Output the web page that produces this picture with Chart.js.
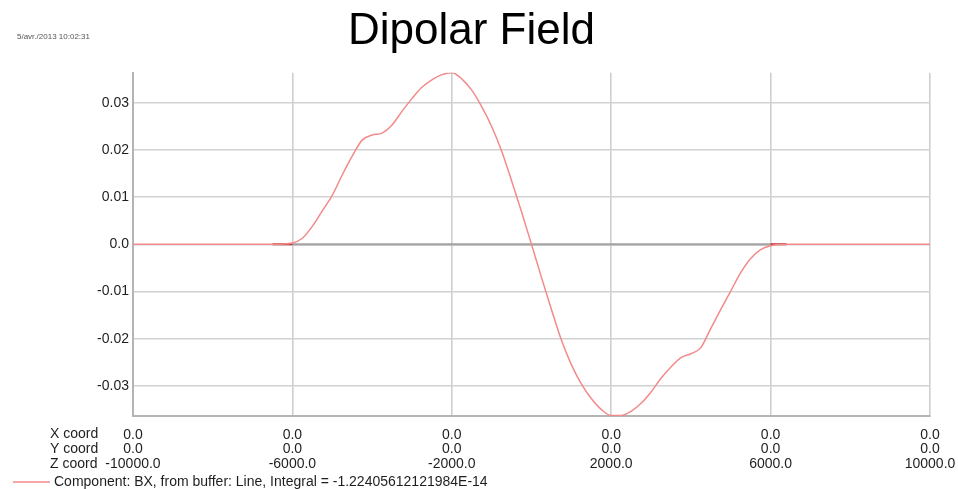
<!DOCTYPE html>
<html>
<head>
<meta charset="utf-8">
<title>Dipolar Field</title>
<script src="https://cdn.jsdelivr.net/npm/chart.js@4/dist/chart.umd.min.js"></script>
<style>
  html, body { margin: 0; padding: 0; background: #ffffff; }
  #wrap { width: 958px; height: 489px; }
</style>
</head>
<body>
<div id="wrap"><canvas id="chart" width="958" height="489"></canvas></div>
<script>
// Field profile along the line: Z coordinate and BX component
const zCoords = [
  -10000, -8000, -6500, -6000, -5750, -5500, -5250, -5000, -4750, -4500,
  -4250, -4000, -3750, -3500, -3250, -3000, -2750, -2500, -2250, -2000,
  -1750, -1500, -1250, -1000, -750, -500, -250, 0,
  250, 500, 750, 1000, 1250, 1500, 1750, 2000, 2250, 2500,
  2750, 3000, 3250, 3500, 3750, 4000, 4250, 4500, 4750, 5000,
  5250, 5500, 5750, 6000, 6400, 8000, 10000
];
const bxValues = [
  0, 0, 0, 0.0003, 0.0013, 0.0038, 0.0071, 0.0104, 0.0147, 0.0187,
  0.0221, 0.0232, 0.0236, 0.0253, 0.0282, 0.0309, 0.0333, 0.0349, 0.0360, 0.0364,
  0.0351, 0.0327, 0.0292, 0.0250, 0.0198, 0.0135, 0.0069, 0,
  -0.0070, -0.0138, -0.0203, -0.0255, -0.0296, -0.0327, -0.0350, -0.0363, -0.0363, -0.0354,
  -0.0337, -0.0313, -0.0284, -0.0260, -0.0240, -0.0232, -0.0219, -0.0178, -0.0138, -0.0099,
  -0.0060, -0.0030, -0.0011, -0.0003, 0, 0, 0
];

// Source geometry on the axis and its end pieces
const sourceZ = [-6000, 6000];
const sourceEndsLeftZ = [-6500, -6000];
const sourceEndsRightZ = [6000, 6400];

// Axis ticks and labels
const zTicks = [-10000, -6000, -2000, 2000, 6000, 10000];
const xCoordRow = ['0.0', '0.0', '0.0', '0.0', '0.0', '0.0'];
const yCoordRow = ['0.0', '0.0', '0.0', '0.0', '0.0', '0.0'];
const zCoordRow = ['-10000.0', '-6000.0', '-2000.0', '2000.0', '6000.0', '10000.0'];
const rowNames = ['X coord', 'Y coord', 'Z coord'];
const yTicks = [-0.03, -0.02, -0.01, 0, 0.01, 0.02, 0.03];
const yTickLabels = ['-0.03', '-0.02', '-0.01', '0.0', '0.01', '0.02', '0.03'];

const chartTitle = 'Dipolar Field';
const timeStamp = '5/avr./2013 10:02:31';
const seriesLabel = 'Component: BX, from buffer: Line, Integral = -1.22405612121984E-14';

const FONT = "'Liberation Sans', Arial, sans-serif";
const CURVE = '#f28a8a';
const TEXT = '#1e1e1e';
const LINE_H = 14.6;

function pts(xs, ys) { return xs.map((x, i) => ({ x: x, y: ys[i] })); }

const decorations = {
  id: 'decorations',
  afterDraw(chart) {
    const ctx = chart.ctx;
    const area = chart.chartArea;
    ctx.save();
    // timestamp
    ctx.font = '8px ' + FONT;
    ctx.fillStyle = '#555555';
    ctx.textBaseline = 'middle';
    ctx.textAlign = 'left';
    ctx.fillText(timeStamp, 17, 37);
    // row names beside the multi-line x labels
    ctx.font = '14px ' + FONT;
    ctx.fillStyle = TEXT;
    const firstLine = area.bottom + 18.5;
    rowNames.forEach((name, i) => ctx.fillText(name, 50, firstLine + i * LINE_H));
    // series key
    const ky = 482;
    ctx.strokeStyle = CURVE;
    ctx.lineWidth = 1.5;
    ctx.beginPath();
    ctx.moveTo(13, ky);
    ctx.lineTo(50, ky);
    ctx.stroke();
    ctx.fillText(seriesLabel, 54, ky);
    ctx.restore();
  }
};

new Chart(document.getElementById('chart'), {
  type: 'line',
  data: {
    datasets: [
      {
        label: seriesLabel,
        data: pts(zCoords, bxValues),
        borderColor: CURVE,
        borderWidth: 1.5,
        pointRadius: 0,
        cubicInterpolationMode: 'monotone',
        fill: false
      },
      {
        label: 'end-left',
        data: pts(sourceEndsLeftZ, [0, 0]),
        borderColor: '#b52a2a',
        borderWidth: 2,
        pointRadius: 0
      },
      {
        label: 'end-right',
        data: pts(sourceEndsRightZ, [0, 0]),
        borderColor: '#b52a2a',
        borderWidth: 2,
        pointRadius: 0
      },
      {
        label: 'source',
        data: pts(sourceZ, [0, 0]),
        borderColor: '#a3a3a3',
        borderWidth: 2.2,
        pointRadius: 0
      }
    ]
  },
  options: {
    responsive: false,
    animation: false,
    layout: { padding: { left: 13, right: 28, top: 0, bottom: 0 } },
    plugins: {
      legend: { display: false },
      tooltip: { enabled: false },
      title: {
        display: true,
        text: chartTitle,
        color: '#000000',
        font: { family: FONT, size: 44, weight: 'normal', lineHeight: 1.2 },
        padding: { top: 5, bottom: 14.9 }
      }
    },
    scales: {
      x: {
        type: 'linear',
        min: -10000,
        max: 10000,
        afterBuildTicks(scale) { scale.ticks = zTicks.map(v => ({ value: v })); },
        afterFit(scale) {
          scale.height = 73;
          scale.paddingLeft = 0;
          scale.paddingRight = 0;
        },
        grid: { color: '#cfcfcf', lineWidth: 1.6, drawTicks: false },
        border: { color: '#b4b4b4', width: 2 },
        ticks: {
          autoSkip: false,
          maxRotation: 0,
          padding: 11.5,
          color: TEXT,
          font: { family: FONT, size: 14, lineHeight: LINE_H / 14 },
          callback(value) {
            const i = zTicks.indexOf(value);
            return [xCoordRow[i], yCoordRow[i], zCoordRow[i]];
          }
        }
      },
      y: {
        type: 'linear',
        min: -0.0364,
        max: 0.0364,
        afterBuildTicks(scale) { scale.ticks = yTicks.map(v => ({ value: v })); },
        afterFit(scale) { scale.width = 120; },
        grid: {
          color: '#d2d2d2',
          lineWidth: 1.6,
          drawTicks: false
        },
        border: { color: '#b4b4b4', width: 2 },
        ticks: {
          padding: 4,
          color: TEXT,
          font: { family: FONT, size: 14 },
          callback(value) {
            const i = yTicks.findIndex(t => Math.abs(t - value) < 1e-9);
            return i >= 0 ? yTickLabels[i] : '';
          }
        }
      }
    }
  },
  plugins: [decorations]
});
</script>
</body>
</html>
